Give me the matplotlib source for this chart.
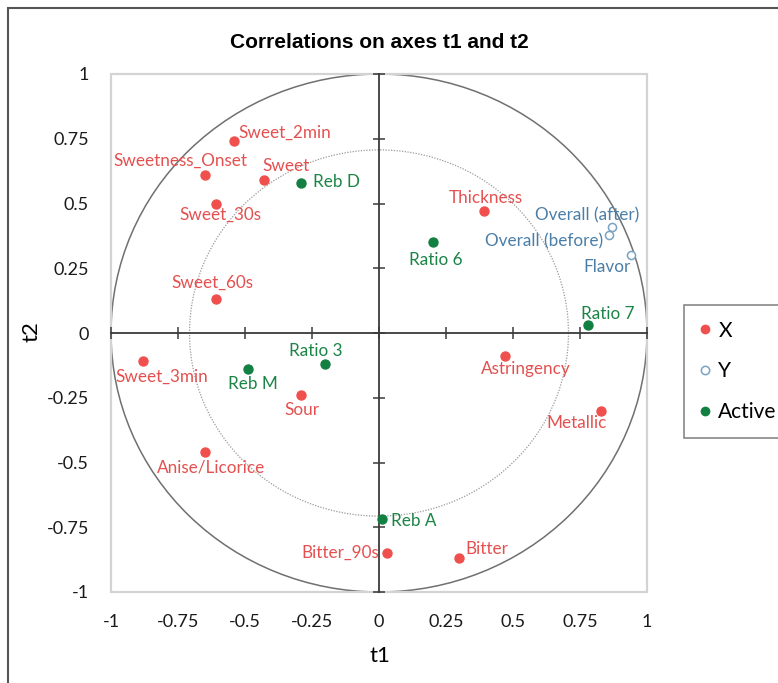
import matplotlib
matplotlib.use("Agg")
import matplotlib.pyplot as plt
from matplotlib.patches import Circle, Rectangle
from matplotlib.lines import Line2D

plt.rcParams['font.family'] = ['Lato', 'DejaVu Sans']

# variables (t1, t2 correlations)
x_names = ["Sweet_2min", "Sweetness_Onset", "Sweet", "Sweet_30s", "Sweet_60s",
           "Thickness", "Sweet_3min", "Sour", "Anise/Licorice", "Astringency",
           "Metallic", "Bitter_90s", "Bitter"]
x_t1 = [-0.54, -0.65, -0.43, -0.61, -0.61, 0.39, -0.88, -0.29, -0.65, 0.47,
        0.83, 0.03, 0.30]
x_t2 = [0.74, 0.61, 0.59, 0.50, 0.13, 0.47, -0.11, -0.24, -0.46, -0.09,
        -0.30, -0.85, -0.87]

y_names = ["Overall (after)", "Overall (before)", "Flavor"]
y_t1 = [0.87, 0.86, 0.94]
y_t2 = [0.41, 0.38, 0.30]

act_names = ["Reb D", "Ratio 6", "Ratio 7", "Ratio 3", "Reb M", "Reb A"]
act_t1 = [-0.29, 0.20, 0.78, -0.20, -0.49, 0.01]
act_t2 = [0.58, 0.35, 0.03, -0.12, -0.14, -0.72]

ticks = [-1, -0.75, -0.5, -0.25, 0, 0.25, 0.5, 0.75, 1]
tick_labels = ["-1", "-0.75", "-0.5", "-0.25", "0", "0.25", "0.5", "0.75", "1"]

# label placement: (dx, dy) in pixels from the point, horizontal alignment
x_offsets = {
    "Sweet_2min": (50, 9, "center"), "Sweetness_Onset": (-24, 14, "center"),
    "Sweet": (22, 14, "center"), "Sweet_30s": (5, -11, "center"),
    "Sweet_60s": (-3, 17, "center"), "Thickness": (2, 13, "center"),
    "Sweet_3min": (19, -15, "center"), "Sour": (1, -15, "center"),
    "Anise/Licorice": (6, -15, "center"), "Astringency": (21, -13, "center"),
    "Metallic": (-25, -12, "center"), "Bitter_90s": (-8, 0, "right"),
    "Bitter": (6, 9, "left"),
}
y_offsets = {
    "Overall (after)": (-25, 11, "center"), "Overall (before)": (-6, -7, "right"),
    "Flavor": (-24, -12, "center"),
}
act_offsets = {
    "Reb D": (12, 1, "left"), "Ratio 6": (3, -18, "center"),
    "Ratio 7": (20, 11, "center"), "Ratio 3": (-10, 13, "center"),
    "Reb M": (5, -15, "center"), "Reb A": (9, -2, "left"),
}

RED = "#f0504d"
RED_TXT = "#e4504f"
BLUE = "#7aa3c2"
BLUE_TXT = "#4a7ea8"
GREEN = "#128042"
GREEN_TXT = "#1b8446"

fig = plt.figure(figsize=(7.78, 6.83), dpi=100)
ax = fig.add_axes([111 / 778, 91 / 683, 536 / 778, 518 / 683])
ax.set_xlim(-1, 1)
ax.set_ylim(-1, 1)

# circles
ax.add_patch(Circle((0, 0), 1, fill=False, ec="#707070", lw=1.1))
ax.add_patch(Circle((0, 0), 0.707, fill=False, ec="#9a9a9a", lw=0.9, ls=(0, (1, 1.2))))

# axes through origin
for s in ["top", "right"]:
    ax.spines[s].set_visible(False)
ax.spines["left"].set_position(("data", 0))
ax.spines["bottom"].set_position(("data", 0))
for s in ["left", "bottom"]:
    ax.spines[s].set_color("#3a3a3a")
    ax.spines[s].set_linewidth(1.3)
ax.set_xticks(ticks)
ax.set_yticks(ticks)
ax.tick_params(direction="inout", length=9, width=1.1, color="#3a3a3a",
               labelbottom=False, labelleft=False)

# plot area frame
ax.add_patch(Rectangle((0, 0), 1, 1, transform=ax.transAxes, fill=False,
                       ec="#d3d3d3", lw=1.6, clip_on=False))

# tick labels at the edges
secx = ax.secondary_xaxis("bottom")
secx.set_xticks(ticks, tick_labels)
secx.spines["bottom"].set_visible(False)
secx.tick_params(length=0, pad=16, labelsize=13, labelcolor="#1a1a1a")
secy = ax.secondary_yaxis("left")
secy.set_yticks(ticks, tick_labels)
secy.spines["left"].set_visible(False)
secy.tick_params(length=0, pad=16, labelsize=13, labelcolor="#1a1a1a")

# points
ax.scatter(x_t1, x_t2, s=42, color=RED, zorder=3, clip_on=False)
ax.scatter(y_t1, y_t2, s=34, facecolor="white", edgecolor=BLUE, lw=1.1, zorder=3, clip_on=False)
ax.scatter(act_t1, act_t2, s=42, color=GREEN, zorder=3, clip_on=False)

def put_labels(names, xs, ys, offs, color):
    for n, xv, yv in zip(names, xs, ys):
        dx, dy, ha = offs[n]
        ax.annotate(n, (xv, yv), xytext=(dx, dy), textcoords="offset pixels",
                    ha=ha, va="center", fontsize=12.3, color=color)

put_labels(x_names, x_t1, x_t2, x_offsets, RED_TXT)
put_labels(y_names, y_t1, y_t2, y_offsets, BLUE_TXT)
put_labels(act_names, act_t1, act_t2, act_offsets, GREEN_TXT)

# titles
fig.text(379 / 778, 1 - 43 / 683, "Correlations on axes t1 and t2", ha="center", va="center",
         fontsize=15, fontweight="bold", family=["Liberation Sans Narrow", "Liberation Sans"])
fig.text(380 / 778, 1 - 656 / 683, "t1", ha="center", va="center", fontsize=16)
fig.text(31 / 778, 1 - 332 / 683, "t2", ha="center", va="center", fontsize=16, rotation=90)

# legend
handles = [
    Line2D([], [], ls="", marker="o", ms=6, color=RED),
    Line2D([], [], ls="", marker="o", ms=6, mfc="white", mec=BLUE, mew=1.1),
    Line2D([], [], ls="", marker="o", ms=6, color=GREEN),
]
leg = fig.legend(handles, ["X", "Y", "Active"], loc="upper left",
                 bbox_to_anchor=(684 / 778, 1 - 305 / 683), fontsize=15,
                 frameon=True, fancybox=False, edgecolor="#6a6a6a",
                 handlelength=0.5, handletextpad=0.4, labelspacing=1.0,
                 borderpad=0.75, borderaxespad=0)
leg.get_frame().set_linewidth(1.2)

# outer border of the figure
fig.patches.append(Rectangle((8 / 778, -0.1), 2, 1 - 8 / 683 + 0.1, transform=fig.transFigure,
                             fill=False, ec="#555555", lw=1.5))

fig.savefig("out.png", dpi=100)
